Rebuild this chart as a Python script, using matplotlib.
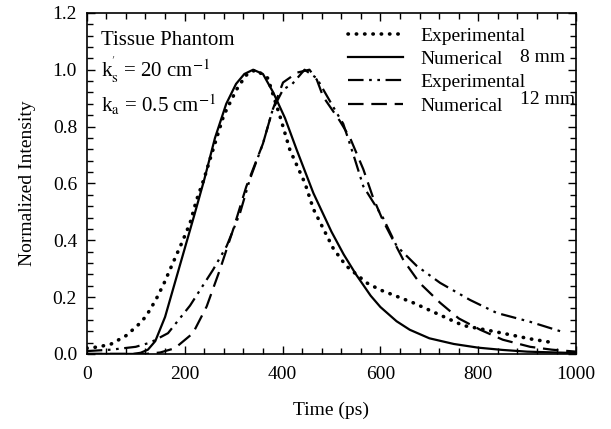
import matplotlib
matplotlib.use("Agg")
import matplotlib.pyplot as plt
from matplotlib.ticker import MultipleLocator, AutoMinorLocator

plt.rcParams['font.family'] = ['Liberation Serif', 'DejaVu Serif']
plt.rcParams['mathtext.fontset'] = 'stix'

# 8 mm, experimental (dotted)
exp8_t = [0, 25, 50, 81, 110, 122, 141, 157, 176, 194, 211, 224, 239, 260, 280, 306,
          325, 345, 370, 395, 415, 446, 463, 504, 530, 572, 600, 667, 769, 838, 906, 955]
exp8_i = [0.02, 0.025, 0.035, 0.065, 0.11, 0.135, 0.19, 0.245, 0.32, 0.39, 0.46, 0.54,
          0.613, 0.73, 0.84, 0.93, 0.98, 1.0, 0.97, 0.835, 0.718, 0.60, 0.51, 0.37,
          0.31, 0.25, 0.225, 0.18, 0.10, 0.077, 0.053, 0.039]

# 8 mm, numerical (solid)
num8_t = [0, 95, 110, 125, 140, 160, 180, 200, 220, 240, 262, 285, 305, 322, 340, 360,
          381, 405, 429, 463, 500, 525, 550, 580, 600, 633, 660, 700, 750, 800, 850,
          900, 1000]
num8_i = [0.0, 0.0, 0.004, 0.015, 0.045, 0.13, 0.25, 0.37, 0.49, 0.613, 0.76, 0.88,
          0.95, 0.985, 1.0, 0.985, 0.92, 0.83, 0.718, 0.566, 0.43, 0.35, 0.28, 0.205,
          0.165, 0.115, 0.085, 0.055, 0.035, 0.022, 0.014, 0.008, 0.003]

# 12 mm, experimental (dash-dot-dot)
exp12_t = [0, 50, 100, 130, 166, 211, 258, 286, 313, 333, 360, 380, 401, 420, 445, 470,
           490, 510, 524, 545, 565, 605, 633, 674, 722, 783, 838, 906, 973]
exp12_i = [0.01, 0.015, 0.025, 0.04, 0.073, 0.17, 0.296, 0.38, 0.495, 0.613, 0.74,
           0.86, 0.93, 0.95, 1.0, 0.97, 0.91, 0.85, 0.81, 0.70, 0.59, 0.48, 0.38,
           0.31, 0.25, 0.19, 0.144, 0.113, 0.077]

# 12 mm, numerical (dashed)
num12_t = [0, 120, 150, 180, 217, 245, 272, 299, 326, 360, 380, 401, 430, 455, 470, 483,
           517, 538, 565, 585, 605, 647, 680, 722, 760, 804, 850, 906, 950, 1000]
num12_i = [0.0, 0.0, 0.005, 0.02, 0.073, 0.167, 0.296, 0.437, 0.589, 0.74, 0.86, 0.955,
           0.99, 1.0, 0.965, 0.905, 0.82, 0.76, 0.65, 0.55, 0.47, 0.33, 0.25, 0.18,
           0.125, 0.085, 0.05, 0.025, 0.015, 0.008]

fig = plt.figure(figsize=(6.11, 4.29), dpi=100)
ax = fig.add_axes([0.142, 0.175, 0.801, 0.795])

l1, = ax.plot(exp8_t, exp8_i, color='black', lw=2.6, linestyle=(0, (0.1, 2.2)),
              dash_capstyle='round', label='Experimental')
l2, = ax.plot(num8_t, num8_i, color='black', lw=1.6, label='Numerical')
l3, = ax.plot(exp12_t, exp12_i, color='black', lw=1.6,
              linestyle=(0, (7, 2.5, 1.2, 2.5, 1.2, 2.5)), label='Experimental')
l4, = ax.plot(num12_t, num12_i, color='black', lw=1.6, linestyle=(0, (7, 3.5)),
              label='Numerical')

ax.set_xlim(0, 1000)
ax.set_ylim(0, 1.2)
ax.xaxis.set_major_locator(MultipleLocator(200))
ax.yaxis.set_major_locator(MultipleLocator(0.2))
ax.xaxis.set_minor_locator(AutoMinorLocator(5))
ax.yaxis.set_minor_locator(AutoMinorLocator(5))
ax.yaxis.set_major_formatter(plt.FormatStrFormatter('%.1f'))
ax.tick_params(which='both', direction='in', top=True, right=True, labelsize=14,
               width=1)
ax.tick_params(which='major', length=6)
ax.tick_params(which='minor', length=4)
ax.tick_params(axis='x', which='major', pad=9)
ax.tick_params(axis='y', which='major', pad=7)
for s in ax.spines.values():
    s.set_linewidth(1.2)

ax.set_xlabel('Time (ps)', fontsize=14, labelpad=13)
ax.set_ylabel('Normalized Intensity', fontsize=14, labelpad=12)

ax.text(0.029, 0.906, 'Tissue Phantom', transform=ax.transAxes, fontsize=15,
        va='baseline')
ax.text(0.029, 0.812, r"k$_{\rm s}^{\rm '}$ = 20 cm$^{-1}$", transform=ax.transAxes,
        fontsize=15, va='baseline')
ax.text(0.029, 0.707, r"k$_{\rm a}$ = 0.5 cm$^{-1}$", transform=ax.transAxes,
        fontsize=15, va='baseline')

ax.legend(handles=[l1, l2, l3, l4], loc='upper left', bbox_to_anchor=(0.534, 0.958),
          frameon=False, fontsize=14, handlelength=2.83, handletextpad=0.88,
          labelspacing=0.29, borderpad=0, borderaxespad=0)
ax.text(0.885, 0.87, '8 mm', transform=ax.transAxes, fontsize=14, va='center')
ax.text(0.885, 0.745, '12 mm', transform=ax.transAxes, fontsize=14, va='center')

fig.savefig('out.png', dpi=100)
